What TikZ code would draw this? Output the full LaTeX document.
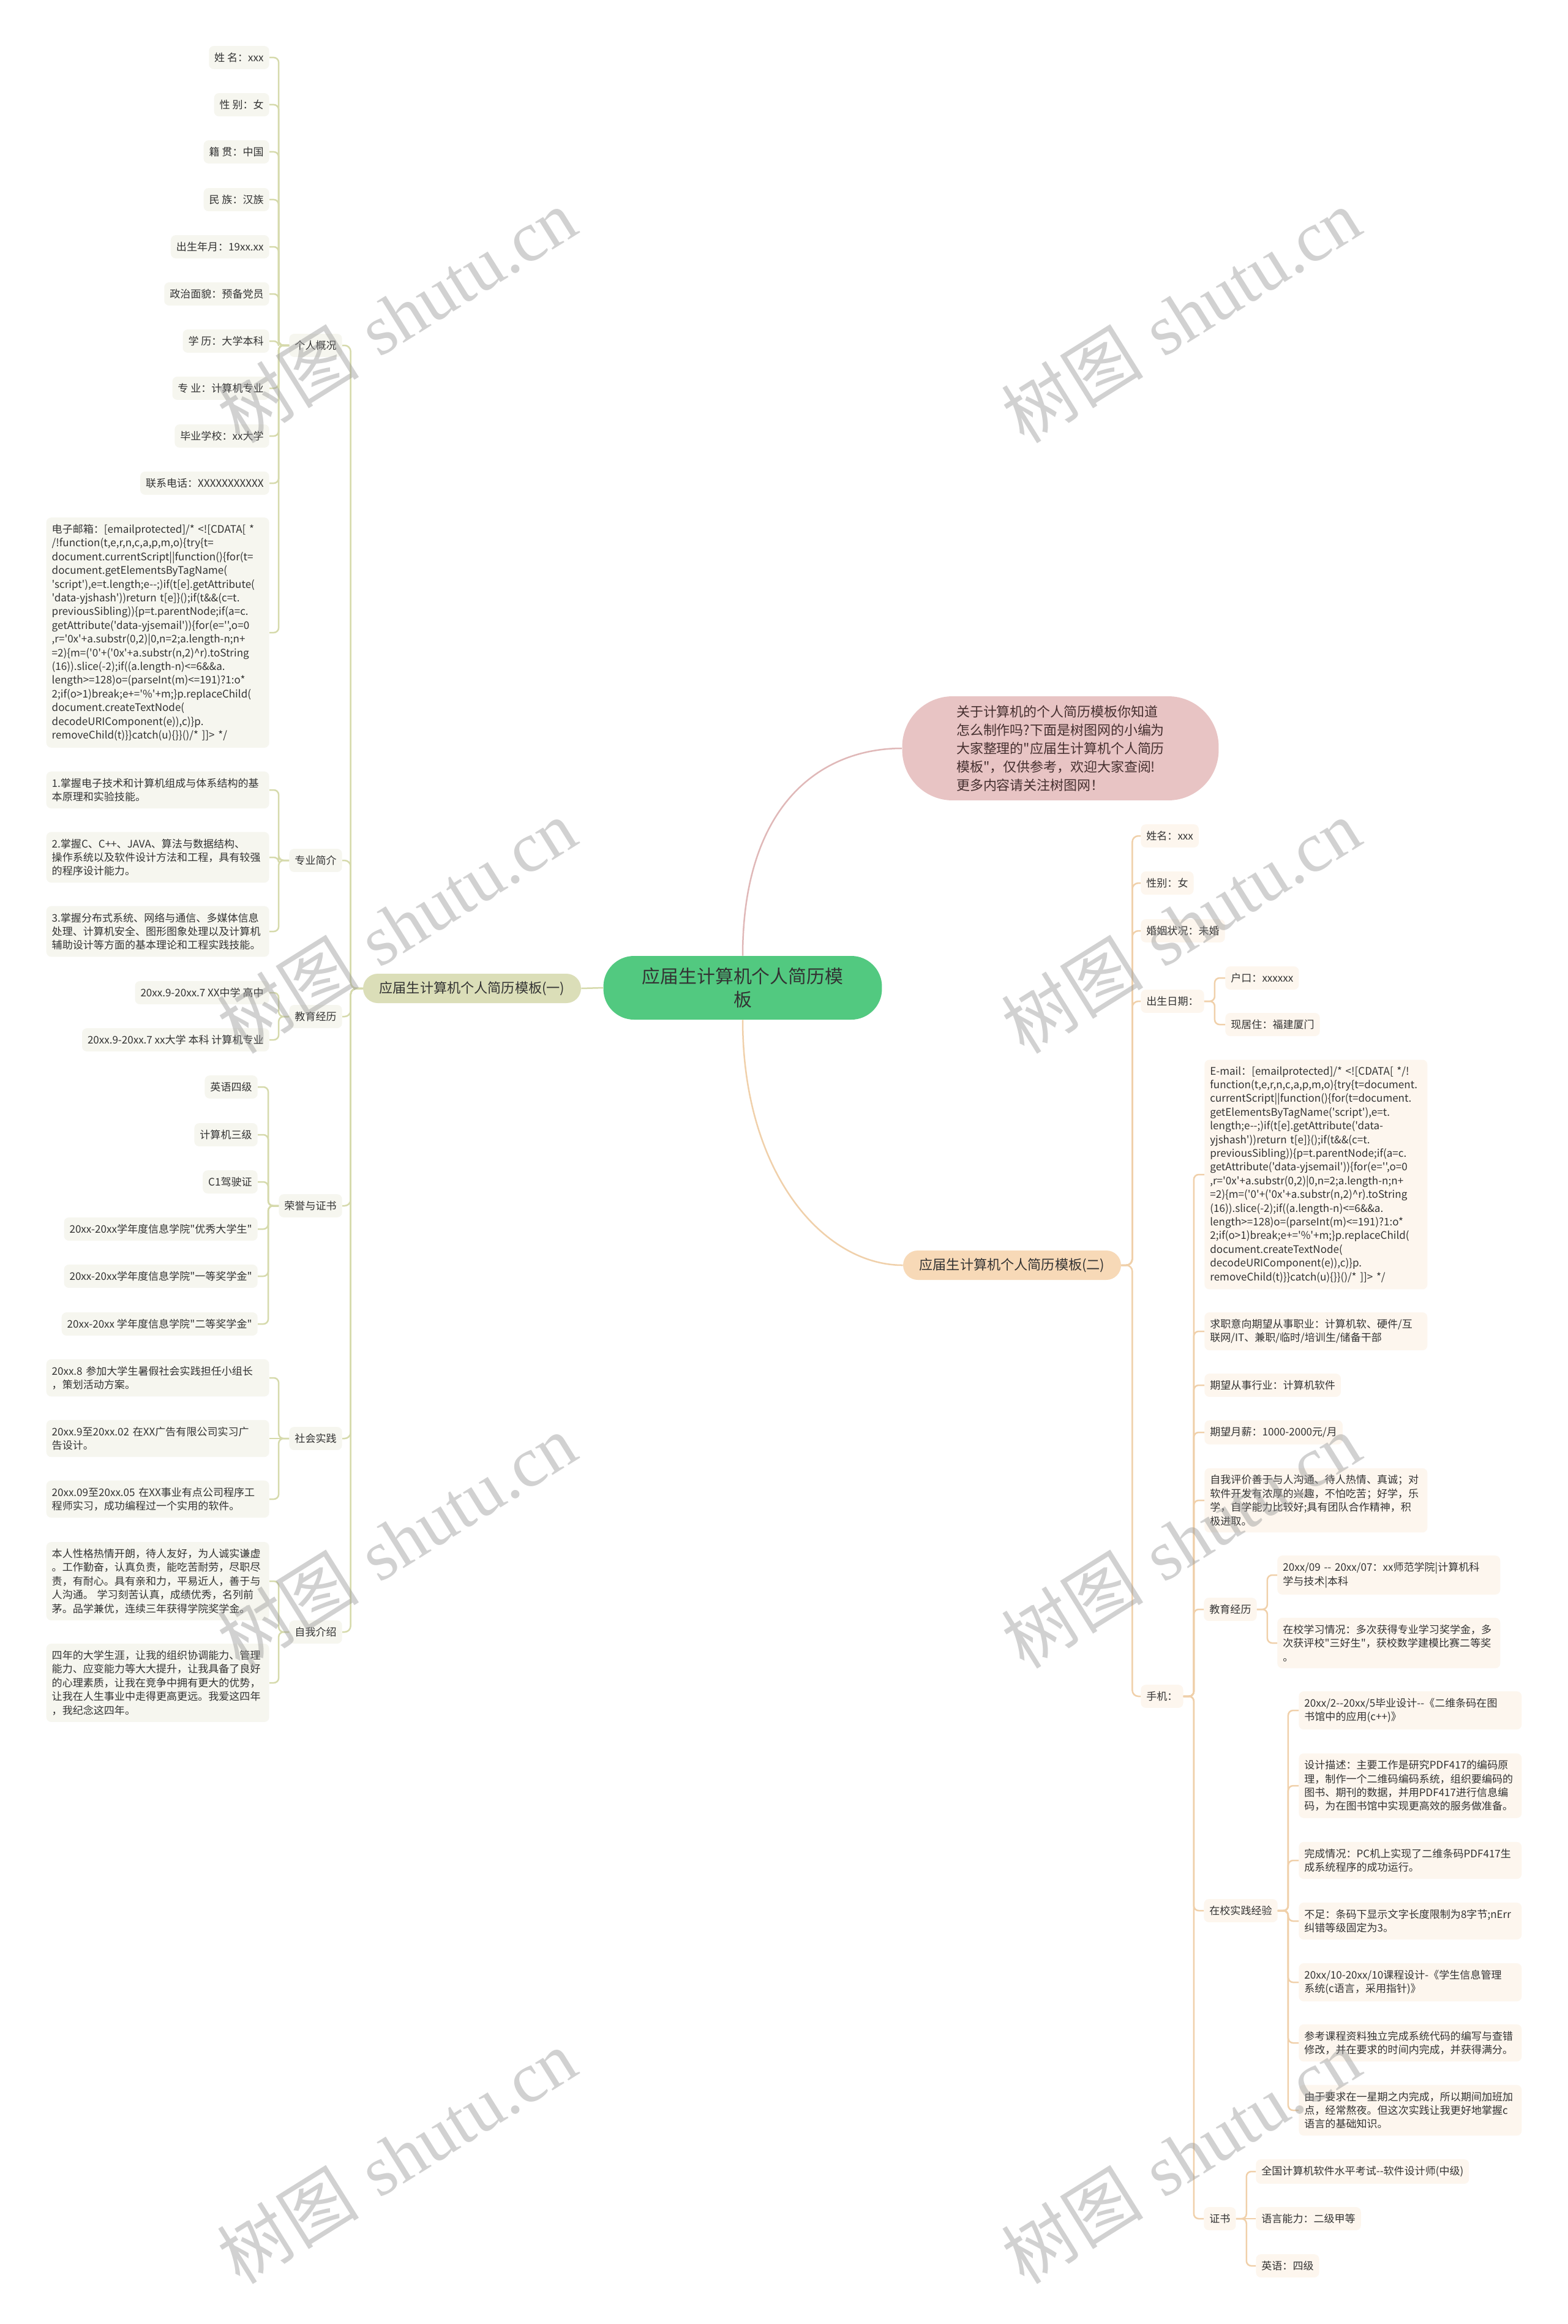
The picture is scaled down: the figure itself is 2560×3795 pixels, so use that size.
\documentclass[tikz,border=0pt]{standalone}
\usepackage{fontspec}
\newfontfamily\cjk{Noto Sans CJK SC}
\newfontfamily\wmserif{Liberation Serif}

\definecolor{rootgreen}{RGB}{82,201,128}
\definecolor{introfill}{RGB}{232,196,196}
\definecolor{introline}{RGB}{224,184,184}
\definecolor{introtext}{RGB}{70,48,48}
\definecolor{lbfill}{RGB}{219,222,184}
\definecolor{lline}{RGB}{214,218,172}
\definecolor{lleaffill}{RGB}{246,246,239}
\definecolor{rbfill}{RGB}{247,217,183}
\definecolor{rline}{RGB}{240,208,170}
\definecolor{rleaffill}{RGB}{253,246,238}
\definecolor{txt}{RGB}{51,51,51}

\begin{document}
\begin{tikzpicture}[x=0.02cm, y=-0.02cm,
    leaf/.style={font=\cjk\fontsize{9.7}{12.75}\selectfont, text=txt,
      rounded corners=0.16cm, inner xsep=0.18cm, inner ysep=0.22cm, align=left},
    lleaf/.style={leaf, fill=lleaffill, anchor=east},
    rleaf/.style={leaf, fill=rleaffill, anchor=west},
    wide/.style={text width=6.92cm},
    lconn/.style={draw=lline, line width=0.05cm, rounded corners=0.16cm},
    rconn/.style={draw=rline, line width=0.05cm, rounded corners=0.16cm},
    branch/.style={font=\cjk\fontsize{12.6}{15}\selectfont, text=txt,
      rounded corners=0.48cm, minimum width=7.12cm, minimum height=0.96cm},
    wmark/.style={text=black!40, opacity=0.45, rotate=32,
      font=\fontsize{66}{68}\selectfont}]

  % 画布
  \useasboundingbox (0,0) rectangle (2560,3795);
  \fill[white] (0,0) rectangle (2560,3795);

  % 参数
  \def\lx{440}   % 左叶节点右缘
  \def\ly{559}   % 左二级节点右缘
  \def\rx{1863}  % 右二级节点左缘
  \def\sx{1967}  % 手机子节点左缘

  % 根节点与说明
  \node[fill=rootgreen, rounded corners=1.0cm, minimum width=9.1cm,
    minimum height=2.08cm, align=center, text=txt,
    font=\cjk\fontsize{17}{22}\selectfont] (root) at (1213,1613)
    {应届生计算机个人简历模\\板};
  \node[fill=introfill, rounded corners=1.65cm, minimum width=10.34cm,
    minimum height=3.4cm, align=left, text=introtext,
    font=\cjk\fontsize{12.5}{17}\selectfont] (intro) at (1732,1222)
    {关于计算机的个人简历模板你知道\\怎么制作吗?下面是树图网的小编为\\大家整理的"应届生计算机个人简历\\模板"，仅供参考，欢迎大家查阅!\\更多内容请关注树图网！};

  % 左分支(一)
  \node[branch, fill=lbfill] (lb) at (771,1614) {应届生计算机个人简历模板(一)};

  % 个人概况
  \node[lleaf] (gk) at (\ly,564) {个人概况};
  \node[lleaf] (gk-1) at (\lx,94) {姓 名：xxx};
  \node[lleaf] (gk-2) at (\lx,171) {性 别：女};
  \node[lleaf] (gk-3) at (\lx,248) {籍 贯：中国};
  \node[lleaf] (gk-4) at (\lx,326) {民 族：汉族};
  \node[lleaf] (gk-5) at (\lx,403) {出生年月：19xx.xx};
  \node[lleaf] (gk-6) at (\lx,480) {政治面貌：预备党员};
  \node[lleaf] (gk-7) at (\lx,557) {学 历：大学本科};
  \node[lleaf] (gk-8) at (\lx,634) {专 业：计算机专业};
  \node[lleaf] (gk-9) at (\lx,712) {毕业学校：xx大学};
  \node[lleaf] (gk-10) at (\lx,789) {联系电话：XXXXXXXXXXX};
  \node[lleaf, wide] (gk-11) at (\lx,1033)
    {电子邮箱：[emailprotected]/* <![CDATA[ *\\
     /!function(t,e,r,n,c,a,p,m,o)\{try\{t=\\
     document.currentScript||function()\{for(t=\\
     document.getElementsByTagName(\\
     'script'),e=t.length;e--;)if(t[e].getAttribute(\\
     'data-yjshash'))return t[e]\}();if(t\&\&(c=t.\\
     previousSibling))\{p=t.parentNode;if(a=c.\\
     getAttribute('data-yjsemail'))\{for(e='',o=0\\
     ,r='0x'+a.substr(0,2)|0,n=2;a.length-n;n+\\
     =2)\{m=('0'+('0x'+a.substr(n,2)\textasciicircum r).toString\\
     (16)).slice(-2);if((a.length-n)<=6\&\&a.\\
     length>=128)o=(parseInt(m)<=191)?1:o*\\
     2;if(o>1)break;e+='\%'+m;\}p.replaceChild(\\
     document.createTextNode(\\
     decodeURIComponent(e)),c)\}p.\\
     removeChild(t)\}\}catch(u)\{\}\}()/* ]]> */};

  % 专业简介
  \node[lleaf] (zy) at (\ly,1405) {专业简介};
  \node[lleaf, wide] (zy-1) at (\lx,1290)
    {1.掌握电子技术和计算机组成与体系结构的基\\本原理和实验技能。};
  \node[lleaf, wide] (zy-2) at (\lx,1400)
    {2.掌握C、C++、JAVA、算法与数据结构、\\操作系统以及软件设计方法和工程，具有较强\\的程序设计能力。};
  \node[lleaf, wide] (zy-3) at (\lx,1521)
    {3.掌握分布式系统、网络与通信、多媒体信息\\处理、计算机安全、图形图象处理以及计算机\\辅助设计等方面的基本理论和工程实践技能。};

  % 教育经历
  \node[lleaf] (jyL) at (\ly,1660) {教育经历};
  \node[lleaf] (jyL-1) at (\lx,1621) {20xx.9-20xx.7 XX中学 高中};
  \node[lleaf] (jyL-2) at (\lx,1698) {20xx.9-20xx.7 xx大学 本科 计算机专业};

  % 荣誉与证书
  \node[lleaf] (ry) at (\ly,1969) {荣誉与证书};
  \node[lleaf] (ry-1) at (421,1775) {英语四级};
  \node[lleaf] (ry-2) at (421,1853) {计算机三级};
  \node[lleaf] (ry-3) at (421,1930) {C1驾驶证};
  \node[lleaf] (ry-4) at (421,2007) {20xx-20xx学年度信息学院"优秀大学生"};
  \node[lleaf] (ry-5) at (421,2084) {20xx-20xx学年度信息学院"一等奖学金"};
  \node[lleaf] (ry-6) at (421,2162) {20xx-20xx 学年度信息学院"二等奖学金"};

  % 社会实践
  \node[lleaf] (sh) at (\ly,2349) {社会实践};
  \node[lleaf, wide] (sh-1) at (\lx,2250)
    {20xx.8 参加大学生暑假社会实践担任小组长\\，策划活动方案。};
  \node[lleaf, wide] (sh-2) at (\lx,2349)
    {20xx.9至20xx.02 在XX广告有限公司实习广\\告设计。};
  \node[lleaf, wide] (sh-3) at (\lx,2448)
    {20xx.09至20xx.05 在XX事业有点公司程序工\\程师实习，成功编程过一个实用的软件。};

  % 自我介绍
  \node[lleaf] (zw) at (\ly,2665) {自我介绍};
  \node[lleaf, wide] (zw-1) at (\lx,2582)
    {本人性格热情开朗，待人友好，为人诚实谦虚\\。工作勤奋，认真负责，能吃苦耐劳，尽职尽\\责，有耐心。具有亲和力，平易近人，善于与\\人沟通。 学习刻苦认真，成绩优秀，名列前\\茅。品学兼优，连续三年获得学院奖学金。};
  \node[lleaf, wide] (zw-2) at (\lx,2748)
    {四年的大学生涯，让我的组织协调能力、管理\\能力、应变能力等大大提升，让我具备了良好\\的心理素质，让我在竞争中拥有更大的优势，\\让我在人生事业中走得更高更远。我爱这四年\\，我纪念这四年。};

  % 右分支(二)
  \node[branch, fill=rbfill] (rb) at (1653,2066) {应届生计算机个人简历模板(二)};

  \node[rleaf] (xm) at (\rx,1365) {姓名：xxx};
  \node[rleaf] (xb) at (\rx,1442) {性别：女};
  \node[rleaf] (hy) at (\rx,1520) {婚姻状况：未婚};
  \node[rleaf] (cs) at (\rx,1635) {出生日期：};
  \node[rleaf] (cs-1) at (2001,1597) {户口：xxxxxx};
  \node[rleaf] (cs-2) at (2001,1673) {现居住：福建厦门};
  \node[rleaf] (sj) at (\rx,2770) {手机：};

  % 手机 下的各项
  \node[rleaf, wide] (sj-1) at (\sx,1918)
    {E-mail：[emailprotected]/* <![CDATA[ */!\\
     function(t,e,r,n,c,a,p,m,o)\{try\{t=document.\\
     currentScript||function()\{for(t=document.\\
     getElementsByTagName('script'),e=t.\\
     length;e--;)if(t[e].getAttribute('data-\\
     yjshash'))return t[e]\}();if(t\&\&(c=t.\\
     previousSibling))\{p=t.parentNode;if(a=c.\\
     getAttribute('data-yjsemail'))\{for(e='',o=0\\
     ,r='0x'+a.substr(0,2)|0,n=2;a.length-n;n+\\
     =2)\{m=('0'+('0x'+a.substr(n,2)\textasciicircum r).toString\\
     (16)).slice(-2);if((a.length-n)<=6\&\&a.\\
     length>=128)o=(parseInt(m)<=191)?1:o*\\
     2;if(o>1)break;e+='\%'+m;\}p.replaceChild(\\
     document.createTextNode(\\
     decodeURIComponent(e)),c)\}p.\\
     removeChild(t)\}\}catch(u)\{\}\}()/* ]]> */};
  \node[rleaf, wide] (sj-2) at (\sx,2174)
    {求职意向期望从事职业：计算机软、硬件/互\\联网/IT、兼职/临时/培训生/储备干部};
  \node[rleaf] (sj-3) at (\sx,2262) {期望从事行业：计算机软件};
  \node[rleaf] (sj-4) at (\sx,2339) {期望月薪：1000-2000元/月};
  \node[rleaf, wide] (sj-5) at (\sx,2450)
    {自我评价善于与人沟通、待人热情、真诚；对\\软件开发有浓厚的兴趣，不怕吃苦；好学，乐\\学，自学能力比较好;具有团队合作精神，积\\极进取。};
  \node[rleaf] (sj-6) at (1966,2628) {教育经历};
  \node[rleaf] (sj-7) at (1966,3120) {在校实践经验};
  \node[rleaf] (sj-8) at (1966,3623) {证书};

  % 教育经历(右)
  \node[rleaf, wide] (jy-1) at (2086,2572)
    {20xx/09 -- 20xx/07：xx师范学院|计算机科\\学与技术|本科};
  \node[rleaf, wide] (jy-2) at (2086,2683)
    {在校学习情况：多次获得专业学习奖学金，多\\次获评校"三好生"，获校数学建模比赛二等奖\\。};

  % 在校实践经验
  \node[rleaf, wide] (sx-1) at (2121,2793)
    {20xx/2--20xx/5毕业设计--《二维条码在图\\书馆中的应用(c++)》};
  \node[rleaf, wide] (sx-2) at (2121,2916)
    {设计描述：主要工作是研究PDF417的编码原\\理，制作一个二维码编码系统，组织要编码的\\图书、期刊的数据，并用PDF417进行信息编\\码，为在图书馆中实现更高效的服务做准备。};
  \node[rleaf, wide] (sx-3) at (2121,3038)
    {完成情况：PC机上实现了二维条码PDF417生\\成系统程序的成功运行。};
  \node[rleaf, wide] (sx-4) at (2121,3137)
    {不足：条码下显示文字长度限制为8字节;nErr\\纠错等级固定为3。};
  \node[rleaf, wide] (sx-5) at (2121,3237)
    {20xx/10-20xx/10课程设计-《学生信息管理\\系统(c语言，采用指针)》};
  \node[rleaf, wide] (sx-6) at (2121,3336)
    {参考课程资料独立完成系统代码的编写与查错\\修改，并在要求的时间内完成，并获得满分。};
  \node[rleaf, wide] (sx-7) at (2121,3446)
    {由于要求在一星期之内完成，所以期间加班加\\点，经常熬夜。但这次实践让我更好地掌握c\\语言的基础知识。};

  % 证书
  \node[rleaf] (zs-1) at (2051,3546) {全国计算机软件水平考试--软件设计师(中级)};
  \node[rleaf] (zs-2) at (2051,3623) {语言能力：二级甲等};
  \node[rleaf] (zs-3) at (2051,3700) {英语：四级};

  % 根节点连线
  \draw[draw=introline, line width=0.05cm]
    (root.north) .. controls +(0,-250) and +(-130,0) .. (intro.west);
  \draw[lconn] (root.west) -- (lb.east);
  \draw[rconn] (root.south) .. controls +(0,250) and +(-130,0) .. (rb.west);

  % 左侧连线
  \foreach \n in {gk,zy,jyL,ry,sh,zw}
    \draw[lconn, rounded corners=0.2cm] (lb.west) -- ++(-20,0) |- (\n.east);
  \foreach \i in {1,...,11}
    \draw[lconn] (gk.west) -- ++(-17,0) |- (gk-\i.east);
  \foreach \i in {1,2,3}
    \draw[lconn] (zy.west) -- ++(-17,0) |- (zy-\i.east);
  \foreach \i in {1,2}
    \draw[lconn] (jyL.west) -- ++(-17,0) |- (jyL-\i.east);
  \foreach \i in {1,...,6}
    \draw[lconn] (ry.west) -- ++(-17,0) |- (ry-\i.east);
  \foreach \i in {1,3}
    \draw[lconn] (sh.west) -- ++(-17,0) |- (sh-\i.east);
  \draw[lconn] (sh.west) -- (sh-2.east);
  \foreach \i in {1,2}
    \draw[lconn] (zw.west) -- ++(-17,0) |- (zw-\i.east);

  % 右侧连线
  \foreach \n in {xm,xb,hy,cs,sj}
    \draw[rconn, rounded corners=0.2cm] (rb.east) -- ++(18,0) |- (\n.west);
  \foreach \i in {1,2}
    \draw[rconn] (cs.east) -- ++(17,0) |- (cs-\i.west);
  \foreach \i in {1,...,8}
    \draw[rconn] (sj.east) -- ++(17,0) |- (sj-\i.west);
  \foreach \i in {1,2}
    \draw[rconn] (sj-6.east) -- ++(17,0) |- (jy-\i.west);
  \foreach \i in {1,...,7}
    \draw[rconn] (sj-7.east) -- ++(17,0) |- (sx-\i.west);
  \foreach \i in {1,3}
    \draw[rconn] (sj-8.east) -- ++(17,0) |- (zs-\i.west);
  \draw[rconn] (sj-8.east) -- (zs-2.west);

  % 水印
  \foreach \wx in {648,1929}
    \foreach \wy in {515,1512,2516,3521}
      \node[wmark] (wm-\wx-\wy) at (\wx,\wy) {{\cjk 树图} {\wmserif shutu.cn}};
\end{tikzpicture}
\end{document}
